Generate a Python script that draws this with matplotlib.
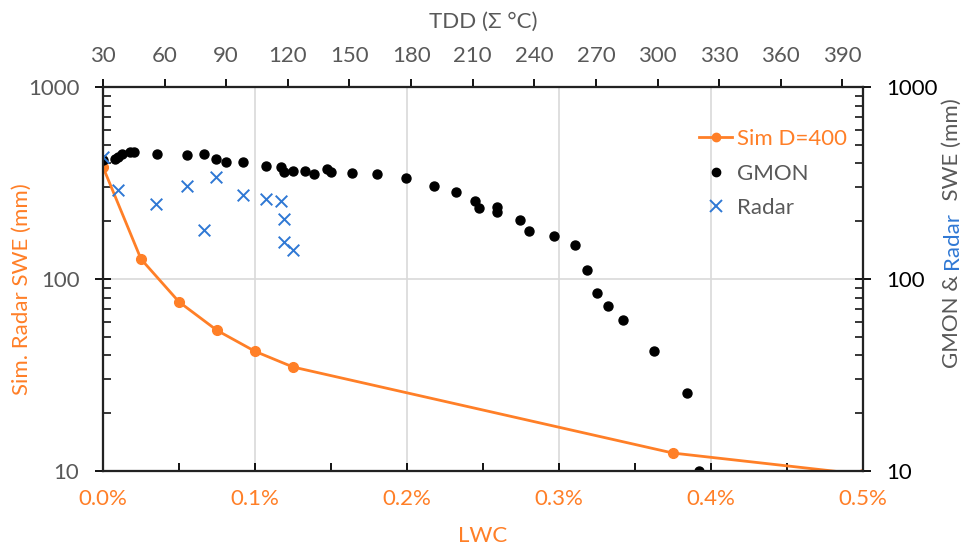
import matplotlib
matplotlib.use('Agg')
import matplotlib.pyplot as plt
from matplotlib.ticker import FixedLocator, FuncFormatter, NullFormatter
from matplotlib.lines import Line2D

plt.rcParams['font.family'] = ['Lato', 'DejaVu Sans']

# ---- data ----
sim_lwc = [0.0, 0.025, 0.05, 0.075, 0.1, 0.125, 0.375, 0.5]
sim_swe = [383, 127, 76, 54, 42, 34.8, 12.4, 9.6]

gmon_tdd = [30.0, 35.8, 37.4, 39.4, 43.1, 45.1, 56.1, 71.0, 79.3, 85.0, 89.7, 98.0,
            109.4, 116.7, 118.0, 122.6, 128.3, 132.9, 138.9, 140.9, 151.1, 163.4,
            177.5, 191.1, 202.0, 210.9, 213.0, 221.7, 221.7, 233.0, 237.5, 249.7,
            259.9, 265.6, 270.4, 275.9, 283.3, 298.4, 314.3, 320.3]
gmon_swe = [417, 420, 433, 446, 460, 457, 448, 444, 446, 422, 407, 407,
            389, 384, 361, 364, 366, 353, 374, 362, 357, 351,
            335, 306, 283, 255, 233, 237, 223, 204, 178, 167,
            150, 111, 84.5, 72.6, 61.4, 42.3, 25.5, 10.0]

radar_tdd = [30.0, 37.2, 55.9, 71.0, 79.3, 85.0, 98.0, 109.4, 116.7, 118.0, 118.0, 122.6]
radar_swe = [433, 290, 247, 306, 180, 340, 275, 262, 255, 206, 156, 141]

lwc_ticks = [0.0, 0.1, 0.2, 0.3, 0.4, 0.5]
tdd_ticks = [30, 60, 90, 120, 150, 180, 210, 240, 270, 300, 330, 360, 390]
swe_ticks = [10, 100, 1000]

ORANGE = '#FF7F27'
BLUE = '#2F78D4'
GRAY = '#595959'
FS = 16

W, H = 962, 548
fig = plt.figure(figsize=(W / 100, H / 100), dpi=100)
L, R, T, B = 103, 863, 87, 471
ax = fig.add_axes([L / W, 1 - B / H, (R - L) / W, (B - T) / H])

# Sim line (bottom x / left y)
ax.plot(sim_lwc, sim_swe, color=ORANGE, lw=2, marker='o', ms=7, zorder=3)
ax.set_xlim(0, 0.5)
ax.set_yscale('log')
ax.set_ylim(10, 1000)
ax.xaxis.set_major_locator(FixedLocator(lwc_ticks))
ax.xaxis.set_minor_locator(FixedLocator([0.05, 0.15, 0.25, 0.35, 0.45]))
ax.xaxis.set_major_formatter(FuncFormatter(lambda v, p: f'{v:.1f}%'))
ax.yaxis.set_major_locator(FixedLocator(swe_ticks))
ax.yaxis.set_minor_formatter(NullFormatter())
ax.yaxis.set_major_formatter(FuncFormatter(lambda v, p: f'{int(round(v))}'))
ax.grid(True, which='major', color='#d9d9d9', lw=1.2)
ax.set_axisbelow(True)
ax.tick_params(axis='x', which='both', direction='in', length=6, width=1.3,
               labelcolor=ORANGE, labelsize=FS, pad=13)
ax.tick_params(axis='y', which='major', direction='inout', length=12, width=1.3,
               labelcolor=GRAY, labelsize=FS, pad=11)
ax.tick_params(axis='y', which='minor', direction='in', length=6, width=1.1)

# top axis (TDD) shares y
axt = ax.twiny()
axt.scatter(gmon_tdd, gmon_swe, s=42, color='black', zorder=3)
axt.scatter(radar_tdd, radar_swe, s=70, marker='x', color=BLUE, lw=1.4, zorder=4)
axt.set_xlim(30, 400)
axt.xaxis.set_major_locator(FixedLocator(tdd_ticks))
axt.tick_params(axis='x', direction='out', length=6, width=1.3, labelcolor=GRAY,
                labelsize=FS, pad=9)

# right axis
axr = ax.twinx()
axr.set_yscale('log')
axr.set_ylim(10, 1000)
axr.yaxis.set_major_locator(FixedLocator(swe_ticks))
axr.yaxis.set_minor_formatter(NullFormatter())
axr.yaxis.set_major_formatter(FuncFormatter(lambda v, p: f'{int(round(v))}'))
axr.tick_params(axis='y', which='major', direction='inout', length=12, width=1.3,
                labelcolor='black', labelsize=FS, pad=11)
axr.tick_params(axis='y', which='minor', direction='in', length=6, width=1.1)

for a in (ax, axt, axr):
    for s in a.spines.values():
        s.set_linewidth(1.5)
        s.set_color('#222222')

# legend
handles = [Line2D([], [], color=ORANGE, lw=2, marker='o', ms=6),
           Line2D([], [], color='black', lw=0, marker='o', ms=6),
           Line2D([], [], color=BLUE, lw=0, marker='x', ms=8, mew=1.4)]
leg = axr.legend(handles, ['Sim D=400', 'GMON', 'Radar'], loc='upper left',
                 bbox_to_anchor=(688 / W, 1 - 118 / H), bbox_transform=fig.transFigure,
                 frameon=False, fontsize=FS, handlelength=1.5, handletextpad=0.2,
                 labelspacing=0.65, borderpad=0)
for t, c in zip(leg.get_texts(), [ORANGE, GRAY, GRAY]):
    t.set_color(c)

# axis titles
fig.text(483 / W, 1 - 22 / H, 'TDD (Σ °C)', color=GRAY, fontsize=FS, ha='center', va='center')
fig.text(483 / W, 1 - 536 / H, 'LWC', color=ORANGE, fontsize=FS, ha='center', va='center')
fig.text(22 / W, 1 - 289 / H, 'Sim. Radar SWE (mm)', color=ORANGE, fontsize=FS,
         rotation=90, ha='center', va='center')

# multi-colour right title
fig.canvas.draw()
renderer = fig.canvas.get_renderer()
x_base = 958
y_cur = H - 368
for txt, col in [('GMON & ', GRAY), ('Radar', BLUE), ('  SWE (mm)', GRAY)]:
    t = fig.text(x_base / W, y_cur / H, txt, color=col, fontsize=FS, rotation=90,
                 rotation_mode='anchor', ha='left', va='baseline')
    bb = t.get_window_extent(renderer)
    y_cur += bb.height

fig.savefig('out.png', dpi=100)
